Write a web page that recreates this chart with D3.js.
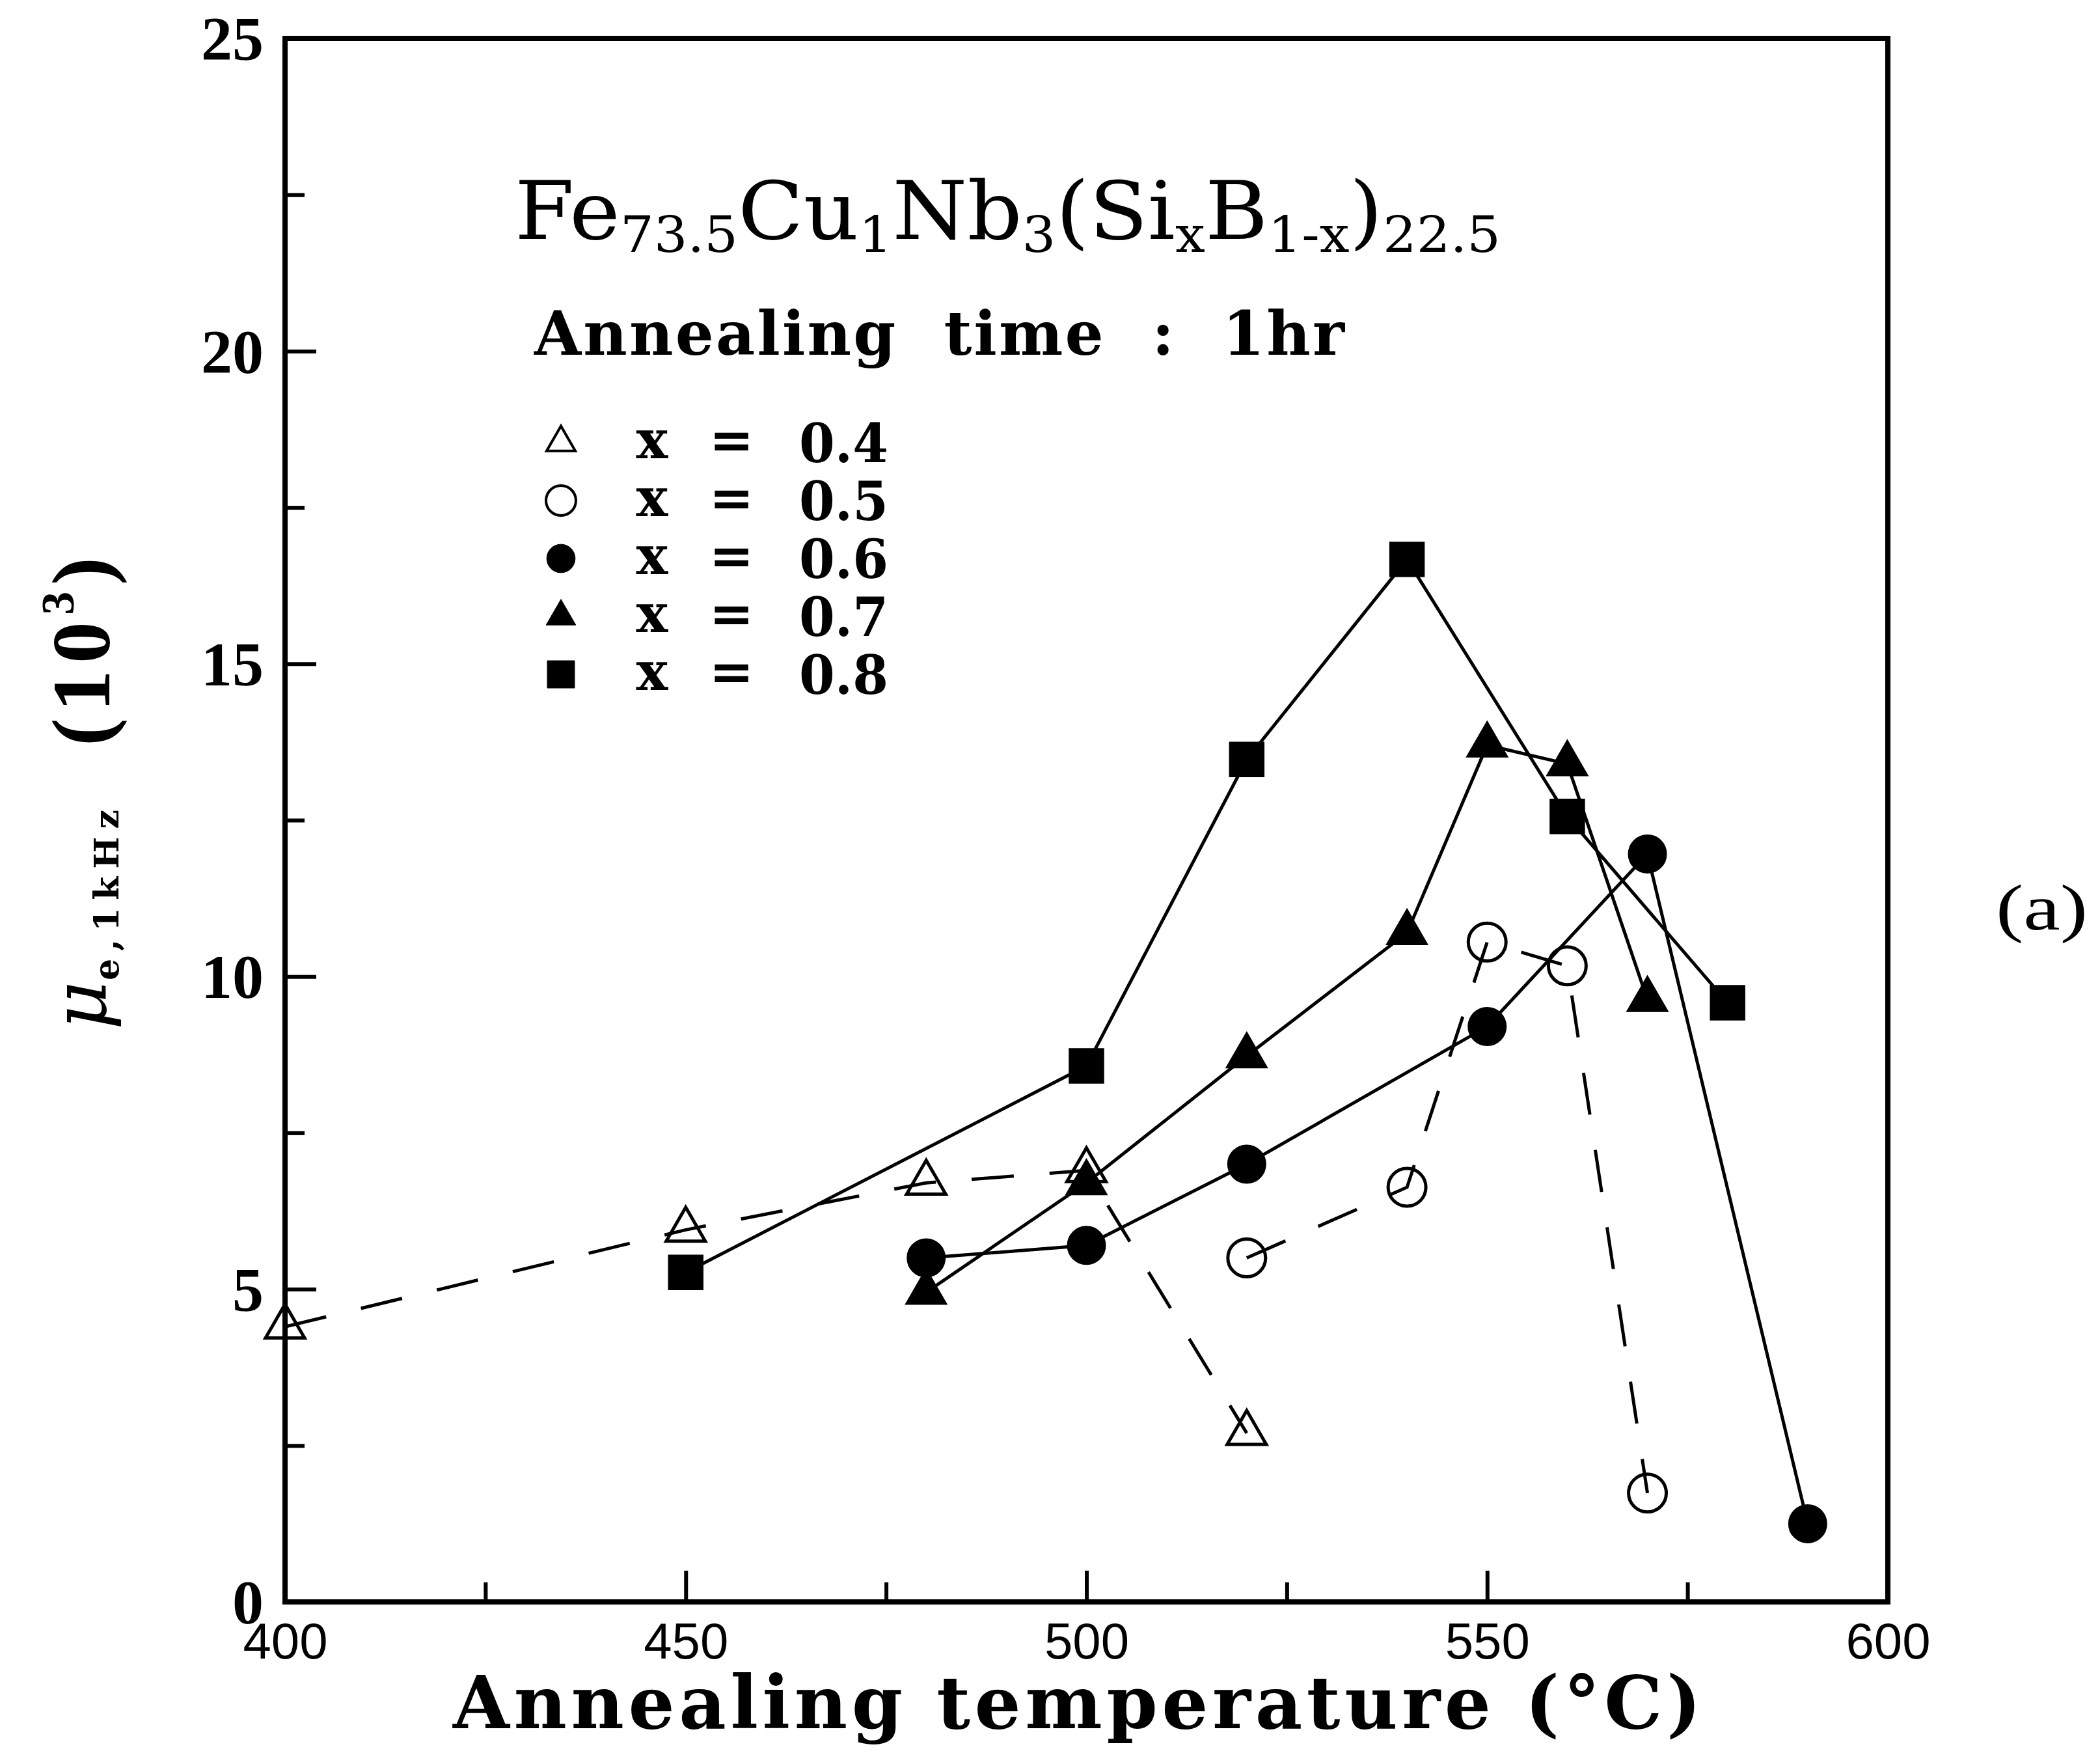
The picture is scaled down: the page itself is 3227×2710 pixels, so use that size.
<!DOCTYPE html>
<html>
<head>
<script src="https://d3js.org/d3.v7.min.js"></script>
<style>
    body { margin: 0; background: #fff; }
    svg text { fill: #000; }
</style>
</head>
<body>
<div id="chart"></div>
<script>
    // axis ticks
    var xTickValues = [400, 450, 500, 550, 600];
    var xMinorTicks = [425, 475, 525, 575];
    var yTickValues = [0, 5, 10, 15, 20, 25];
    var yMinorTicks = [2.5, 7.5, 12.5, 17.5, 22.5];

    // legend entries (Si fraction x)
    var compositions = ["0.4", "0.5", "0.6", "0.7", "0.8"];

    // annealing temperature (C) and permeability mu_e at 1 kHz (10^3)
    var temp04 = [400, 450, 480, 500, 520];
    var mu04   = [4.4, 5.95, 6.7, 6.9, 2.7];

    var temp05 = [520, 540, 550, 560, 570];
    var mu05   = [5.5, 6.63, 10.55, 10.17, 1.74];

    var temp06 = [480, 500, 520, 550, 570, 590];
    var mu06   = [5.5, 5.7, 7.0, 9.2, 11.96, 1.25];

    var temp07 = [480, 500, 520, 540, 550, 560, 570];
    var mu07   = [4.95, 6.7, 8.73, 10.7, 13.7, 13.4, 9.63];

    var temp08 = [450, 500, 520, 540, 560, 580];
    var mu08   = [5.27, 8.57, 13.47, 16.67, 12.56, 9.58];

    var width = 3227, height = 2710;
    var plotLeft = 438, plotRight = 2901, plotTop = 59, plotBottom = 2461;

    var serif = "'DejaVu Serif', 'Liberation Serif', serif";

    var svg = d3.select("#chart")
        .append("svg")
        .attr("width", width)
        .attr("height", height)
        .style("background", "#fff");

    var x = d3.scaleLinear().domain([400, 600]).range([plotLeft, plotRight]);
    var y = d3.scaleLinear().domain([0, 25]).range([plotBottom, plotTop]);

    var series = [
        { t: temp04, v: mu04, sym: d3.symbolTriangle, filled: false, dashed: true, size: 1560, lsize: 840 },
        { t: temp05, v: mu05, sym: d3.symbolCircle,   filled: false, dashed: true, size: 2640, lsize: 1660 },
        { t: temp06, v: mu06, sym: d3.symbolCircle,   filled: true,  dashed: false, size: 2640, lsize: 1500 },
        { t: temp07, v: mu07, sym: d3.symbolTriangle, filled: true,  dashed: false, size: 1700, lsize: 900 },
        { t: temp08, v: mu08, sym: d3.symbolSquare,   filled: true,  dashed: false, size: 2750, lsize: 1760 }
    ];

    // inward ticks on left and bottom
    function styleAxis(g) {
        g.select(".domain").remove();
        g.selectAll(".tick line").attr("stroke", "#000").attr("stroke-width", 6);
    }

    svg.append("g")
        .attr("transform", "translate(" + plotLeft + ",0)")
        .call(d3.axisLeft(y).tickValues(yMinorTicks).tickSize(-30).tickFormat(""))
        .call(styleAxis);

    svg.append("g")
        .attr("transform", "translate(" + plotLeft + ",0)")
        .call(d3.axisLeft(y).tickValues(yTickValues).tickSize(-48).tickPadding(33).tickFormat(d3.format("d")))
        .call(styleAxis)
        .selectAll("text")
        .attr("font-family", "'Liberation Serif', serif")
        .attr("font-weight", "bold")
        .attr("font-size", 96)
        .attr("dy", "0.34em");

    svg.append("g")
        .attr("transform", "translate(0," + plotBottom + ")")
        .call(d3.axisBottom(x).tickValues(xMinorTicks).tickSize(-30).tickFormat(""))
        .call(styleAxis);

    svg.append("g")
        .attr("transform", "translate(0," + plotBottom + ")")
        .call(d3.axisBottom(x).tickValues(xTickValues).tickSize(-48).tickPadding(32).tickFormat(d3.format("d")))
        .call(styleAxis)
        .selectAll("text")
        .attr("font-family", "'Liberation Sans', Arial, sans-serif")
        .attr("font-size", 78);

    // frame
    svg.append("rect")
        .attr("x", plotLeft).attr("y", plotTop)
        .attr("width", plotRight - plotLeft).attr("height", plotBottom - plotTop)
        .attr("fill", "none").attr("stroke", "#000").attr("stroke-width", 8);

    var line = d3.line()
        .x(function(d) { return x(d[0]); })
        .y(function(d) { return y(d[1]); });

    series.forEach(function(s) {
        var pts = s.t.map(function(t, i) { return [t, s.v[i]]; });
        svg.append("path")
            .datum(pts)
            .attr("d", line)
            .attr("fill", "none")
            .attr("stroke", "#000")
            .attr("stroke-width", 5)
            .attr("stroke-dasharray", s.dashed ? "65,55" : null);
    });

    series.forEach(function(s) {
        var pts = s.t.map(function(t, i) { return [t, s.v[i]]; });
        svg.append("g").selectAll("path")
            .data(pts)
            .enter()
            .append("path")
            .attr("transform", function(d) { return "translate(" + x(d[0]) + "," + y(d[1]) + ")"; })
            .attr("d", d3.symbol().type(s.sym).size(s.size))
            .attr("fill", s.filled ? "#000" : "none")
            .attr("stroke", "#000")
            .attr("stroke-width", s.filled ? 2 : 5);
    });

    // legend
    var legendTop = 680, legendStep = 89;
    var legend = svg.append("g");
    compositions.forEach(function(c, i) {
        var s = series[i];
        var cy = legendTop + i * legendStep;
        legend.append("path")
            .attr("transform", "translate(862," + cy + ")")
            .attr("d", d3.symbol().type(s.sym).size(s.lsize))
            .attr("fill", s.filled ? "#000" : "none")
            .attr("stroke", "#000")
            .attr("stroke-width", s.filled ? 1 : 4);
        legend.append("text")
            .attr("x", 1002).attr("y", cy + 24)
            .attr("text-anchor", "middle")
            .attr("font-family", serif).attr("font-weight", "bold").attr("font-size", 82)
            .text("x");
        legend.append("text")
            .attr("x", 1124).attr("y", cy + 24)
            .attr("text-anchor", "middle")
            .attr("font-family", serif).attr("font-weight", "bold").attr("font-size", 82)
            .text("=");
        legend.append("text")
            .attr("x", 1228).attr("y", cy + 30)
            .attr("font-family", serif).attr("font-weight", "bold").attr("font-size", 82)
            .attr("textLength", 137).attr("lengthAdjust", "spacingAndGlyphs")
            .text(c);
    });

    // composition title
    var titleParts = [["Fe", 0], ["73.5", 1], ["Cu", 0], ["1", 1], ["Nb", 0], ["3", 1],
        ["(Si", 0], ["x", 1], ["B", 0], ["1-x", 1], [")", 0], ["22.5", 1]];
    var title = svg.append("text")
        .attr("x", 791).attr("y", 367)
        .attr("font-family", serif)
        .attr("font-size", 123)
        .attr("textLength", 1515)
        .attr("lengthAdjust", "spacingAndGlyphs");
    var prev = 0;
    titleParts.forEach(function(p) {
        var shift = (p[1] - prev) * 20;
        prev = p[1];
        title.append("tspan")
            .attr("dy", shift)
            .attr("font-size", p[1] ? 76 : 123)
            .text(p[0]);
    });

    svg.append("text")
        .attr("x", 821).attr("y", 545)
        .attr("font-family", serif).attr("font-weight", "bold").attr("font-size", 93)
        .attr("textLength", 1245).attr("lengthAdjust", "spacing")
        .style("white-space", "pre")
        .text("Annealing  time  :  1hr");

    // x axis title
    svg.append("text")
        .attr("x", 696).attr("y", 2655)
        .attr("font-family", serif).attr("font-weight", "bold").attr("font-size", 112)
        .attr("textLength", 1918).attr("lengthAdjust", "spacing")
        .text("Annealing temperature (\u00B0C)");

    // y axis title
    svg.append("text")
        .attr("transform", "translate(162,1582) rotate(-90)")
        .attr("font-family", serif).attr("font-style", "italic").attr("font-size", 115)
        .text("\u03BC");
    svg.append("text")
        .attr("transform", "translate(182,1506) rotate(-90)")
        .attr("font-family", serif).attr("font-weight", "bold").attr("font-size", 52)
        .attr("textLength", 262).attr("lengthAdjust", "spacing")
        .text("e,1kHz");
    var yt = svg.append("text")
        .attr("transform", "translate(168,1146) rotate(-90)")
        .attr("font-family", "'Liberation Serif', serif").attr("font-weight", "bold").attr("font-size", 128)
        .attr("textLength", 290).attr("lengthAdjust", "spacing");
    yt.append("tspan").text("(10");
    yt.append("tspan").attr("dy", -55).attr("font-size", 72).text("3");
    yt.append("tspan").attr("dy", 55).text(")");

    // panel label
    svg.append("text")
        .attr("x", 3067).attr("y", 1428)
        .attr("font-family", "'Liberation Serif', serif")
        .attr("font-size", 100)
        .attr("textLength", 141).attr("lengthAdjust", "spacingAndGlyphs")
        .text("(a)");
</script>
</body>
</html>
